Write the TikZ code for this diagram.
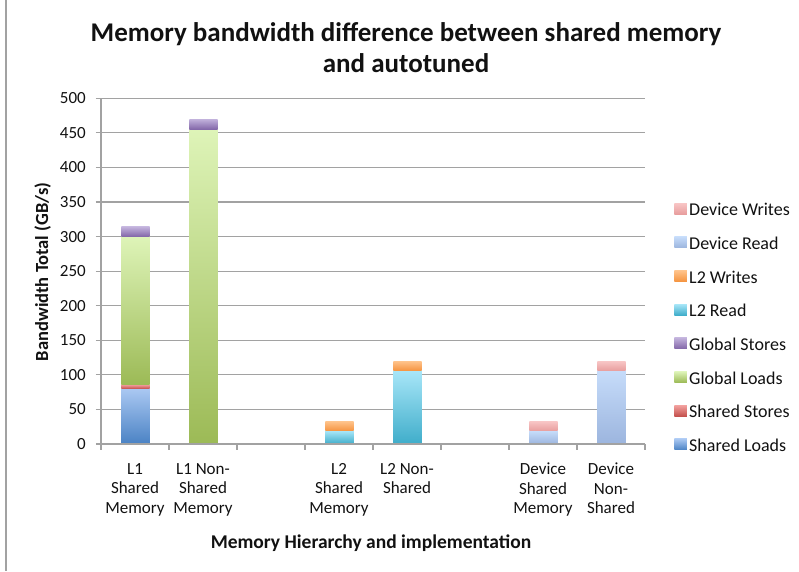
\documentclass[tikz,border=0pt]{standalone}
\usepackage{fontspec}
\setmainfont{Carlito}

% series colours (top / bottom of each gradient)
\definecolor{slTop}{HTML}{AAC8F2}\definecolor{slBot}{HTML}{4A82C4}
\definecolor{ssTop}{HTML}{F2A19F}\definecolor{ssBot}{HTML}{C4504C}
\definecolor{glTop}{HTML}{DEF4B8}\definecolor{glBot}{HTML}{9CBA56}
\definecolor{gsTop}{HTML}{C2B2DC}\definecolor{gsBot}{HTML}{8266A8}
\definecolor{lrTop}{HTML}{A8E6F8}\definecolor{lrBot}{HTML}{3FADCA}
\definecolor{lwTop}{HTML}{FFC48C}\definecolor{lwBot}{HTML}{F59440}
\definecolor{drTop}{HTML}{C6DCFA}\definecolor{drBot}{HTML}{9CB5DE}
\definecolor{dwTop}{HTML}{F8C6C6}\definecolor{dwBot}{HTML}{E89E9E}
\definecolor{axisgray}{HTML}{A2A2A2}
\definecolor{txt}{HTML}{111111}

% one stacked segment: category, from, to, series prefix
\newcommand\barseg[4]{%
  \shade[top color=#4Top, bottom color=#4Bot] (#1+0.30,#2) rectangle (#1+0.715,#3);}

\begin{document}
\begin{tikzpicture}[x=1pt,y=-1pt,
  axisline/.style={draw=axisgray, line width=1.2pt},
  ticklabel/.style={anchor=east, inner sep=0pt, text=txt, font=\fontsize{17}{20}\selectfont},
  catlabel/.style={anchor=north, align=center, inner sep=0pt, text=txt, font=\fontsize{17}{19.5}\selectfont},
  legendtext/.style={anchor=west, inner sep=0pt, text=txt, font=\fontsize{18}{20}\selectfont},
  legendkey/.style={minimum width=12.5pt, minimum height=11pt, inner sep=0pt},
  titletext/.style={inner sep=0pt, anchor=base, text=txt, font=\fontsize{27}{30}\bfseries\selectfont},
  axistitle/.style={inner sep=0pt, anchor=base, text=txt, font=\fontsize{19.5}{22}\bfseries\selectfont}]
\useasboundingbox (0,0) rectangle (799,571);

% frame edge on the left
\draw[axisgray, line width=1.3pt] (6,0) -- (6,571);

% title
\node[titletext] (title1) at (406,41) {Memory bandwidth difference between shared memory};
\node[titletext] (title2) at (406,72) {and autotuned};

% plot area: x in categories, y in GB/s
\begin{scope}[shift={(101,444)}, x=68pt, y=0.6915pt]
  % horizontal grid lines, y ticks and labels
  \foreach \v in {50,100,...,500}{
    \draw[axisline] (-0.075,\v) -- (8,\v);
  }
  \foreach \v in {0,50,...,500}{
    \draw[axisline] (-0.075,\v) -- (0,\v);
    \node[ticklabel] (t\v) at (-0.22,\v) {\v};
  }

  % L1 Shared Memory
  \barseg{0}{0}{80}{sl}
  \barseg{0}{80}{86}{ss}
  \barseg{0}{86}{300}{gl}
  \barseg{0}{300}{314}{gs}
  % L1 Non-Shared Memory
  \barseg{1}{0}{455}{gl}
  \barseg{1}{455}{470}{gs}
  % L2 Shared Memory
  \barseg{3}{0}{19}{lr}
  \barseg{3}{19}{33}{lw}
  % L2 Non-Shared
  \barseg{4}{0}{106}{lr}
  \barseg{4}{106}{120}{lw}
  % Device Shared Memory
  \barseg{6}{0}{19}{dr}
  \barseg{6}{19}{33}{dw}
  % Device Non-Shared
  \barseg{7}{0}{106}{dr}
  \barseg{7}{106}{120}{dw}

  % axes
  \draw[axisline] (0,0) -- (0,500);
  \draw[axisline] (0,0) -- (8,0);
  \foreach \c in {0,...,8}{
    \draw[axisline] (\c,0) -- (\c,-8);
  }
\end{scope}

% category labels
\node[catlabel] (c1) at (135,463) {L1\\Shared\\Memory};
\node[catlabel] (c2) at (203,463) {L1 Non-\\Shared\\Memory};
\node[catlabel] (c4) at (339,463) {L2\\Shared\\Memory};
\node[catlabel] (c5) at (407,463) {L2 Non-\\Shared};
\node[catlabel] (c7) at (543,463) {Device\\Shared\\Memory};
\node[catlabel] (c8) at (611,463) {Device\\Non-\\Shared};

% axis titles
\node[axistitle] (xtitle) at (371,548) {Memory Hierarchy and implementation};
\node[axistitle, rotate=90, font=\fontsize{18.5}{22}\bfseries\selectfont] (ytitle) at (48,272) {Bandwidth Total (GB/s)};

% legend
\foreach \k/\s/\t in {0/dw/Device Writes, 1/dr/Device Read, 2/lw/L2 Writes,
    3/lr/L2 Read, 4/gs/Global Stores, 5/gl/Global Loads,
    6/ss/Shared Stores, 7/sl/Shared Loads}{
  \node[legendkey, top color=\s Top, bottom color=\s Bot] (key\k) at (680.5,208.5+33.7*\k) {};
  \node[legendtext] (leg\k) at (689,209.5+33.7*\k) {\t};
}
\end{tikzpicture}
\end{document}
